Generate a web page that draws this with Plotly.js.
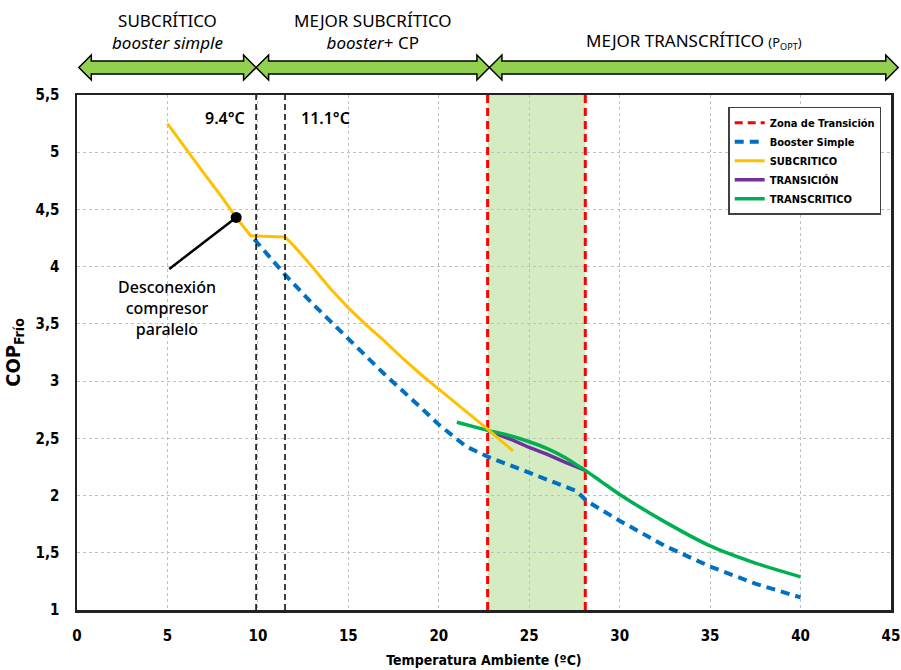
<!DOCTYPE html>
<html>
<head>
<meta charset="utf-8">
<script src="https://cdn.plot.ly/plotly-3.0.1.min.js"></script>
<style>
  html, body { margin: 0; padding: 0; background: #ffffff; }
  #chart { width: 901px; height: 670px; }
</style>
</head>
<body>
<div id="chart"></div>
<script>
// ---------------- DATA ----------------
const subX   = [5, 6, 7, 8, 8.8, 9.6, 11.5, 12, 13, 14, 15, 16, 17, 18, 19, 20, 22.7, 24.1];
const subY   = [5.25, 5.03, 4.82, 4.61, 4.43, 4.27, 4.26, 4.18, 4.0, 3.81, 3.64, 3.49, 3.35, 3.2, 3.06, 2.93, 2.58, 2.39];

const boostX = [9.8, 11.5, 13, 15, 17, 19, 20, 21.5, 22.7, 25, 27.6, 28.2, 30, 32.5, 35, 37.5, 40];
const boostY = [4.24, 3.93, 3.68, 3.37, 3.06, 2.77, 2.62, 2.43, 2.34, 2.2, 2.04, 1.95, 1.78, 1.56, 1.38, 1.23, 1.11];

const transX = [22.7, 24, 25, 26, 27, 28.1];
const transY = [2.57, 2.49, 2.42, 2.36, 2.29, 2.22];

const tcX    = [21, 22.7, 24, 25, 26, 27, 27.6, 28.1, 29, 30, 32.5, 35, 37.5, 40];
const tcY    = [2.64, 2.57, 2.52, 2.47, 2.41, 2.33, 2.27, 2.22, 2.12, 2.01, 1.77, 1.56, 1.41, 1.29];

const zonaX  = [22.7, 28.1];          // transition zone limits
const compX  = [9.9, 11.5];           // black dashed markers
const discX  = [5.1, 8.8];            // pointer line to disconnection point
const discY  = [3.98, 4.43];

const regionEdges  = [0.1, 9.9, 22.8, 45.4];
const regionLabels = [
  'SUBCRÍTICO<br><i>booster simple</i>',
  'MEJOR SUBCRÍTICO<br><i>booster</i>+ CP',
  'MEJOR TRANSCRÍTICO <span style="font-size:13px">(P<sub>OPT</sub>)</span>'
];
const tempLabels = ['9.4°C', '11.1°C'];
const tempLabelX = [8.2, 13.75];

const xRange = [0, 45];
const yRange = [1, 5.5];

// ---------------- STYLE ----------------
const narrow = '"DejaVu Sans Condensed", "Liberation Sans", Arial, sans-serif';
const human  = '"Noto Sans", "Open Sans", sans-serif';

const traces = [];

// Zona de Transición (red dashed verticals)
const zx = [], zy = [];
zonaX.forEach((v, i) => { if (i) { zx.push(null); zy.push(null); } zx.push(v, v); zy.push(yRange[0], yRange[1]); });
traces.push({
  x: zx, y: zy, mode: 'lines', name: 'Zona de Transición', legendrank: 1, legendgroup: 'a',
  line: { color: '#FF0000', width: 3, dash: '8px,5px' }, hoverinfo: 'skip'
});
traces.push({
  x: boostX, y: boostY, mode: 'lines', name: 'Booster Simple', legendrank: 2, legendgroup: 'b',
  line: { color: '#0070C0', width: 4, dash: '9px,6px' }
});
traces.push({
  x: transX, y: transY, mode: 'lines', name: 'TRANSICIÓN', legendrank: 4, legendgroup: 'd',
  line: { color: '#7030A0', width: 3.5 }
});
traces.push({
  x: tcX, y: tcY, mode: 'lines', name: 'TRANSCRITICO', legendrank: 5, legendgroup: 'e',
  line: { color: '#00B050', width: 3.5, shape: 'spline', smoothing: 0.8 }
});
traces.push({
  x: subX, y: subY, mode: 'lines', name: 'SUBCRITICO', legendrank: 3, legendgroup: 'c',
  line: { color: '#FFC000', width: 3 }
});
// pointer line + dot
traces.push({
  x: discX, y: discY, mode: 'lines', showlegend: false,
  line: { color: '#000000', width: 2.5 }, hoverinfo: 'skip'
});
traces.push({
  x: [discX[1]], y: [discY[1]], mode: 'markers', showlegend: false,
  marker: { color: '#000000', size: 11 }, hoverinfo: 'skip'
});

// ---------------- SHAPES ----------------
const shapes = [];
shapes.push({
  type: 'rect', xref: 'x', yref: 'paper', x0: zonaX[0], x1: zonaX[1], y0: 0, y1: 1,
  fillcolor: '#d5ebc1', line: { width: 0 }, layer: 'below'
});
compX.forEach(v => shapes.push({
  type: 'line', xref: 'x', yref: 'paper', x0: v, x1: v, y0: 0, y1: 1,
  line: { color: '#000000', width: 1.5, dash: '6px,4px' }
}));

// double-headed arrows in paper coords
const plotW = 814, plotH = 515.5;
const toPaperX = v => (v - xRange[0]) / (xRange[1] - xRange[0]);
const yc = 1 + 27.5 / plotH;
const hs = 6.6 / plotH, hh = 12.5 / plotH, hl = 12.5 / plotW;
for (let i = 0; i < regionEdges.length - 1; i++) {
  const a = toPaperX(regionEdges[i]), b = toPaperX(regionEdges[i + 1]);
  const p = `M${a},${yc} L${a + hl},${yc + hh} L${a + hl},${yc + hs} L${b - hl},${yc + hs} L${b - hl},${yc + hh} L${b},${yc} L${b - hl},${yc - hh} L${b - hl},${yc - hs} L${a + hl},${yc - hs} L${a + hl},${yc - hh} Z`;
  shapes.push({
    type: 'path', xref: 'paper', yref: 'paper', path: p,
    fillcolor: '#92D050', line: { color: '#000000', width: 1.5 }, layer: 'above'
  });
}

// ---------------- ANNOTATIONS ----------------
const annotations = [];
for (let i = 0; i < regionLabels.length; i++) {
  const mid = (regionEdges[i] + regionEdges[i + 1]) / 2;
  annotations.push({
    xref: 'paper', yref: 'paper', x: toPaperX(mid), y: 1 + (i < 2 ? 64 : 54) / plotH,
    yanchor: 'middle', xanchor: 'center', showarrow: false, text: regionLabels[i],
    font: { family: human, size: 17, color: '#000000' }
  });
}
tempLabels.forEach((t, i) => annotations.push({
  xref: 'x', yref: 'y', x: tempLabelX[i], y: 5.3, showarrow: false, text: t,
  font: { family: human, size: 16, color: '#000000', weight: 600 }
}));
annotations.push({
  xref: 'x', yref: 'y', x: 5.0, y: 3.64, showarrow: false,
  text: 'Desconexión<br>compresor<br>paralelo',
  font: { family: human, size: 16, color: '#000000', weight: 500 }
});

// ---------------- LAYOUT ----------------
const layout = {
  width: 901, height: 670,
  margin: { l: 77, r: 10, t: 95, b: 59.5 },
  paper_bgcolor: '#ffffff', plot_bgcolor: '#ffffff',
  separators: ',.',
  showlegend: true,
  legend: {
    x: 0.8, y: 0.977, xanchor: 'left', yanchor: 'top',
    bgcolor: '#ffffff', bordercolor: '#404040', borderwidth: 1.5,
    font: { family: narrow, size: 11, color: '#000000', weight: 'bold' },
    tracegroupgap: 2.5, traceorder: 'normal', itemwidth: 30
  },
  xaxis: {
    range: xRange, dtick: 5, tick0: 0,
    showgrid: true, gridcolor: '#c0c0c0', griddash: 'dot', gridwidth: 1,
    zeroline: false, showline: true, linecolor: '#222222', linewidth: 2.5, mirror: true,
    ticks: '', ticklabelstandoff: 10,
    tickfont: { family: narrow, size: 15, color: '#000000', weight: 'bold' },
    title: { text: 'Temperatura Ambiente (ºC)', standoff: 12,
      font: { family: narrow, size: 14, color: '#000000', weight: 'bold' } }
  },
  yaxis: {
    range: yRange, dtick: 0.5, tick0: 1,
    showgrid: true, gridcolor: '#c0c0c0', griddash: 'dot', gridwidth: 1,
    zeroline: false, showline: true, linecolor: '#222222', linewidth: 2.5, mirror: true,
    ticks: '', ticklabelstandoff: 12,
    tickfont: { family: narrow, size: 15, color: '#000000', weight: 'bold' },
    title: { text: 'COP<sub>Frío</sub>', standoff: 10,
      font: { family: narrow, size: 20, color: '#000000', weight: 'bold' } }
  },
  shapes: shapes,
  annotations: annotations
};

Plotly.newPlot('chart', traces, layout, { displayModeBar: false, staticPlot: true });
</script>
</body>
</html>
